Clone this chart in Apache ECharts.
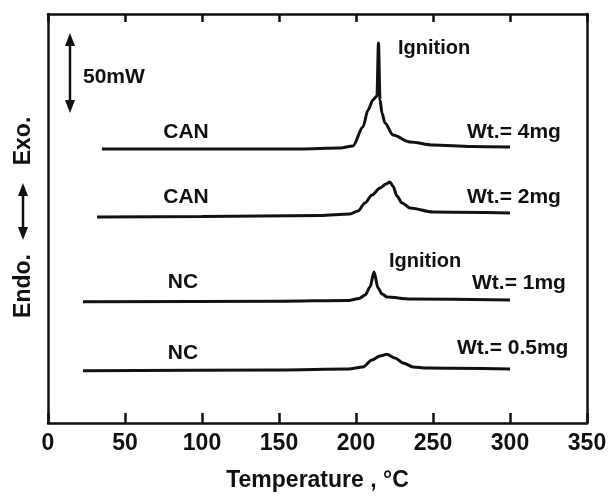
<!DOCTYPE html>
<html>
<head>
<meta charset="utf-8">
<script src="https://cdn.jsdelivr.net/npm/echarts@6/dist/echarts.min.js"></script>
<style>
  html, body { margin: 0; padding: 0; background: #fff; }
  #chart-main { width: 611px; height: 496px; }
</style>
</head>
<body>
<div id="chart-main"></div>
<script>
// temperature (°C) and heat flow (mW, offset per trace)
const xTicks = [0, 50, 100, 150, 200, 250, 300, 350];

const can4mgT = [35, 100, 163.6, 189.6, 198, 204.5, 207.8, 211, 213.6, 214.6, 215.6, 216.9, 218.8, 224, 235, 250, 275, 300];
const can4mgV = [171.5, 171.5, 171.5, 172.1, 173.4, 185.3, 195.9, 202.2, 204.7, 237.8, 202.2, 194.0, 187.8, 180.3, 175.9, 174.0, 173.1, 172.7];

const can2mgT = [31.8, 100, 176.6, 196, 201.3, 205.8, 210.4, 215.6, 219.5, 222, 224, 226.6, 229.9, 235, 250, 300];
const can2mgV = [128.9, 129.2, 129.9, 130.8, 132.7, 137.7, 142.7, 147.1, 149.6, 150.8, 148.3, 142.1, 137.7, 134.6, 132.1, 131.5];

const nc1mgT = [22.7, 150, 195, 202, 206, 209.1, 211.7, 214.3, 217, 220.1, 235, 300];
const nc1mgV = [75.9, 76.2, 76.7, 77.9, 80.1, 85.1, 94.5, 84.5, 80.7, 78.9, 77.6, 77.0];

const nc05mgT = [22.7, 150, 195, 204.5, 210.4, 215.6, 220.1, 225.3, 230.5, 237, 246, 300];
const nc05mgV = [32.7, 33.2, 33.8, 35.1, 39.4, 41.9, 43.0, 40.7, 37.6, 35.1, 34.4, 33.8];

function pairs(t, v) {
  return t.map((x, i) => [x, v[i]]);
}

const lineStyle = { color: '#111', width: 3 };
const txtFont = { fontFamily: 'Liberation Sans', fontWeight: 'bold', fontSize: 21, fill: '#111' };

function label(text, x, y, align, size) {
  return {
    type: 'text',
    x: x,
    y: y,
    style: Object.assign({ text: text, align: align || 'left', verticalAlign: 'middle' }, txtFont, size ? { fontSize: size } : {})
  };
}

// double arrow made of a line and two triangle heads
function doubleArrow(x, y1, y2) {
  const h = 11, w = 5;
  return [
    { type: 'line', shape: { x1: x, y1: y1 + h, x2: x, y2: y2 - h }, style: { stroke: '#111', lineWidth: 2.5 } },
    { type: 'polygon', shape: { points: [[x, y1], [x - w, y1 + h + 2], [x + w, y1 + h + 2]] }, style: { fill: '#111' } },
    { type: 'polygon', shape: { points: [[x, y2], [x - w, y2 - h - 2], [x + w, y2 - h - 2]] }, style: { fill: '#111' } }
  ];
}

const myChart = echarts.init(document.getElementById('chart-main'));

const axisLine = { show: true, onZero: false, lineStyle: { color: '#111', width: 2.5 } };

const option = {
  backgroundColor: '#fff',
  animation: false,
  grid: { left: 48, right: 24, top: 14, bottom: 73, outerBoundsMode: 'none' },
  xAxis: [
    {
      type: 'value',
      min: 0,
      max: 350,
      interval: 50,
      position: 'bottom',
      name: 'Temperature , °C',
      nameLocation: 'middle',
      nameGap: 46,
      nameTextStyle: { fontFamily: 'Liberation Sans', fontWeight: 'bold', fontSize: 23, color: '#111' },
      axisLine: axisLine,
      axisTick: { show: true, inside: true, length: 10, lineStyle: { color: '#111', width: 2.5 } },
      axisLabel: {
        margin: 9,
        fontFamily: 'Liberation Sans',
        fontWeight: 'bold',
        fontSize: 23,
        color: '#111',
        formatter: function (v) { return xTicks.indexOf(v) >= 0 ? String(v) : ''; }
      },
      splitLine: { show: false }
    },
    {
      type: 'value',
      min: 0,
      max: 350,
      interval: 50,
      position: 'top',
      axisLine: axisLine,
      axisTick: { show: true, inside: true, length: 8, lineStyle: { color: '#111', width: 2.5 } },
      axisLabel: { show: false },
      splitLine: { show: false }
    }
  ],
  yAxis: [
    {
      type: 'value',
      min: 0,
      max: 256,
      position: 'left',
      axisLine: axisLine,
      axisTick: { show: false },
      axisLabel: { show: false },
      splitLine: { show: false }
    },
    {
      type: 'value',
      min: 0,
      max: 256,
      position: 'right',
      axisLine: axisLine,
      axisTick: { show: false },
      axisLabel: { show: false },
      splitLine: { show: false }
    }
  ],
  series: [
    { name: 'CAN 4mg', type: 'line', data: pairs(can4mgT, can4mgV), smooth: 0.3, smoothMonotone: 'x', symbol: 'none', lineStyle: lineStyle },
    { name: 'CAN 2mg', type: 'line', data: pairs(can2mgT, can2mgV), smooth: 0.3, smoothMonotone: 'x', symbol: 'none', lineStyle: lineStyle },
    { name: 'NC 1mg', type: 'line', data: pairs(nc1mgT, nc1mgV), smooth: 0.3, smoothMonotone: 'x', symbol: 'none', lineStyle: lineStyle },
    { name: 'NC 0.5mg', type: 'line', data: pairs(nc05mgT, nc05mgV), smooth: 0.3, smoothMonotone: 'x', symbol: 'none', lineStyle: lineStyle }
  ],
  graphic: [
    label('50mW', 83, 77),
    label('CAN', 186, 132, 'center'),
    label('CAN', 186, 197, 'center'),
    label('NC', 183, 282, 'center'),
    label('NC', 183, 353, 'center'),
    label('Ignition', 398, 48, 'left', 20),
    label('Ignition', 389, 261, 'left', 20),
    label('Wt.= 4mg', 467, 132),
    label('Wt.= 2mg', 467, 197),
    label('Wt.= 1mg', 472, 283),
    label('Wt.= 0.5mg', 457, 348),
    {
      type: 'text', x: 24, y: 141, rotation: Math.PI / 2,
      style: Object.assign({ text: 'Exo.', align: 'center', verticalAlign: 'middle' }, txtFont, { fontSize: 23 })
    },
    {
      type: 'text', x: 24, y: 286, rotation: Math.PI / 2,
      style: Object.assign({ text: 'Endo.', align: 'center', verticalAlign: 'middle' }, txtFont, { fontSize: 23 })
    }
  ].concat(doubleArrow(70, 33, 113)).concat(doubleArrow(23, 183, 240))
};

myChart.setOption(option);
</script>
</body>
</html>
